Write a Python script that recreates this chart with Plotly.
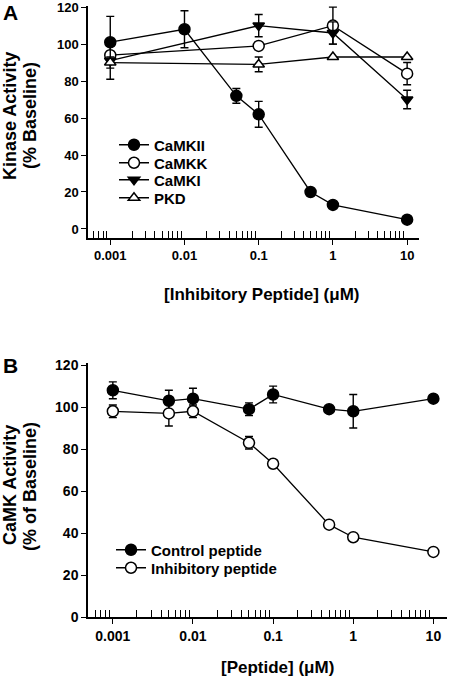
import plotly.graph_objects as go

# ---------- Panel A data ----------
a_x_camkii = [0.001, 0.01, 0.05, 0.1, 0.5, 1, 10]
a_camkii = [101, 108, 72, 62, 20, 13, 5]
a_camkii_err = [14, 10, 4, 7, 0, 0, 0]

a_x_other = [0.001, 0.1, 1, 10]
a_camkk = [94, 99, 110, 84]
a_camkk_err = [2, 0, 10, 6]
a_camki = [91, 110, 106, 70]
a_camki_err = [2, 6, 6, 5]
a_pkd = [90, 89, 93, 93]
a_pkd_err = [9, 4, 0, 0]

# ---------- Panel B data ----------
b_x = [0.001, 0.005, 0.01, 0.05, 0.1, 0.5, 1, 10]
b_control = [108, 103, 104, 99, 106, 99, 98, 104]
b_control_err = [4, 5, 5, 3, 4, 0, 8, 0]
b_inhib = [98, 97, 98, 83, 73, 44, 38, 31]
b_inhib_err = [3, 6, 3, 3, 0, 0, 0, 0]

x_tickvals = [0.001, 0.01, 0.1, 1, 10]
x_ticktext = ["0.001", "0.01", "0.1", "1", "10"]
y_tickvals = [0, 20, 40, 60, 80, 100, 120]

minor_vals = [k * 10 ** e for e in range(-4, 1) for k in range(2, 10) if k * 10 ** e >= 0.00059]

W, H = 450, 678
FONT = "Liberation Sans, Arial, sans-serif"


def px(v):  # horizontal window pixel to paper
    return min(1.0, max(0.0, v / W))


def py(v):  # vertical window pixel (from top) to paper
    return min(1.0, max(0.0, 1 - v / H))


fig = go.Figure()


def add(x, y, err, name, symbol, fill, xa, ya, legend):
    fig.add_trace(go.Scatter(
        x=x, y=y, name=name, mode="lines+markers",
        xaxis=xa, yaxis=ya, legend=legend, cliponaxis=False,
        line=dict(color="black", width=1.3),
        marker=dict(symbol=symbol, size=11 if "circle" in symbol else 10,
                    color=fill, line=dict(color="black", width=1.5)),
        error_y=dict(type="data", array=err, visible=True, color="black",
                     thickness=1.4, width=4),
    ))


add(a_x_camkii, a_camkii, a_camkii_err, "CaMKII", "circle", "black", "x", "y", "legend")
add(a_x_other, a_camkk, a_camkk_err, "CaMKK", "circle", "white", "x", "y", "legend2")
add(a_x_other, a_camki, a_camki_err, "CaMKI", "triangle-down", "black", "x", "y", "legend3")
add(a_x_other, a_pkd, a_pkd_err, "PKD", "triangle-up", "white", "x", "y", "legend4")

add(b_x, b_control, b_control_err, "Control peptide", "circle", "black", "x2", "y2", "legend5")
add(b_x, b_inhib, b_inhib_err, "Inhibitory peptide", "circle", "white", "x2", "y2", "legend6")


def xaxis(dom, rng, anchor, fs):
    return dict(type="log", domain=dom, range=rng, anchor=anchor, automargin=False,
                ticklabeloverflow="allow",
                showline=True, linecolor="black", linewidth=1.5,
                showgrid=False, zeroline=False,
                tickmode="array", tickvals=x_tickvals, ticktext=x_ticktext,
                ticks="outside", ticklen=5, tickwidth=1.3, tickcolor="black",
                tickfont=dict(family=FONT, size=fs, color="black", weight="bold"),
                minor=dict(tickmode="array", tickvals=minor_vals, ticks="inside",
                           ticklen=7, tickwidth=1.3, tickcolor="black", showgrid=False))


def yaxis(dom, rng, anchor, fs):
    return dict(domain=dom, range=rng, anchor=anchor, automargin=False,
                ticklabeloverflow="allow",
                showline=True, linecolor="black", linewidth=1.5,
                showgrid=False, zeroline=False,
                tickmode="array", tickvals=y_tickvals,
                ticks="outside", ticklen=5, tickwidth=1.3, tickcolor="black",
                tickfont=dict(family=FONT, size=fs, color="black", weight="bold"))


def leg(xp, yp, fs):
    return dict(x=px(xp), y=py(yp), xanchor="left", yanchor="middle",
                bgcolor="rgba(0,0,0,0)", borderwidth=0,
                font=dict(family=FONT, size=fs, color="black", weight="bold"))


fig.update_layout(
    width=W, height=H,
    margin=dict(l=0, r=0, t=0, b=0, autoexpand=False),
    paper_bgcolor="white", plot_bgcolor="white",
    showlegend=True, hovermode=False,
    xaxis=xaxis([px(88), px(419)], [-3.30, 1.16], "y", 13),
    yaxis=yaxis([py(238), py(6)], [-4.9, 120.6], "x", 13),
    xaxis2=xaxis([px(88), px(447)], [-3.31, 1.17], "y2", 14),
    yaxis2=yaxis([py(617), py(363)], [0, 121], "x2", 14),
    legend=leg(114, 145, 15),
    legend2=leg(114, 163, 15),
    legend3=leg(114, 180, 15),
    legend4=leg(114, 198, 15),
    legend5=leg(111, 550, 15),
    legend6=leg(111, 568, 15),
)

ann_font = dict(family=FONT, size=17, color="black", weight="bold")
yt_font = dict(family=FONT, size=18, color="black", weight="bold")
letter_font = dict(family=FONT, size=21, color="black", weight="bold")
annotations = [
    dict(text="A", x=px(10), y=py(13), font=letter_font),
    dict(text="B", x=px(10), y=py(366), font=letter_font),
    dict(text="[Inhibitory Peptide] (μM)", x=px(262), y=py(294), font=ann_font),
    dict(text="[Peptide] (μM)", x=px(277), y=py(667), font=ann_font),
    dict(text="Kinase Activity", x=px(10), y=py(116), textangle=-90, font=yt_font),
    dict(text="(% Baseline)", x=px(30), y=py(116), textangle=-90, font=yt_font),
    dict(text="CaMK Activity", x=px(10), y=py(485), textangle=-90, font=yt_font),
    dict(text="(% of Baseline)", x=px(30), y=py(487), textangle=-90, font=yt_font),
]
for a in annotations:
    a.update(xref="paper", yref="paper", showarrow=False, xanchor="center", yanchor="middle")
fig.update_layout(annotations=annotations)

fig.write_html("out.html", config={"displayModeBar": False},
               post_script="document.body.style.margin='0px';")
